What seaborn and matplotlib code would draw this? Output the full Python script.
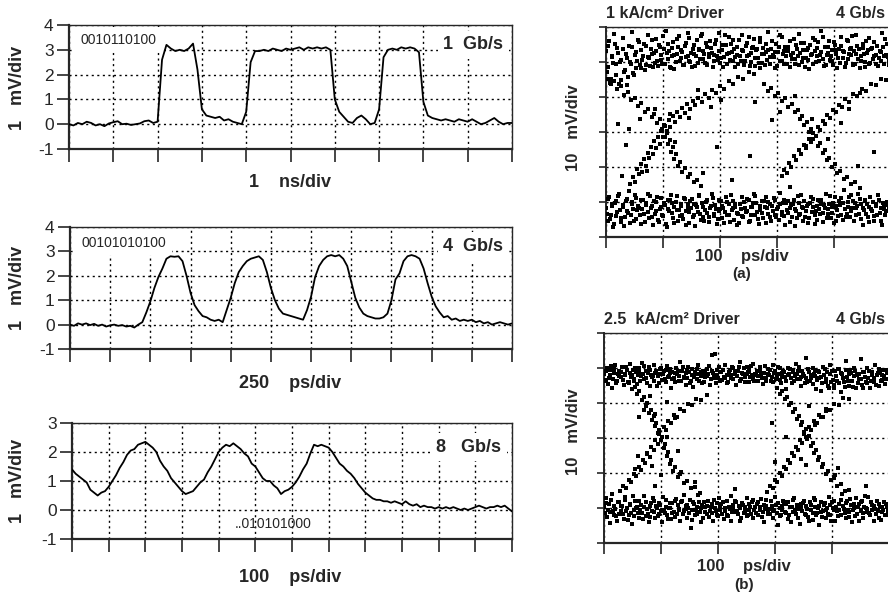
import numpy as np
import matplotlib
matplotlib.use("Agg")
import matplotlib.pyplot as plt
import seaborn as sns

# time divisions on each scope trace
divs_1g, divs_4g, divs_8g = 10, 11, 12

# scope traces (mV), one sample every 0.1 division
wave_1g = [0.0, -0.05, 0.05, 0.0, 0.1, 0.05, -0.05, 0.0, -0.08, 0.03,
           0.08, 0.12, 0.0, 0.02, -0.03, 0.0, 0.03, 0.12, 0.15, 0.05,
           0.1, 2.6, 3.2, 3.05, 2.95, 3.0, 2.95, 3.05, 3.25, 2.2,
           0.6, 0.35, 0.3, 0.25, 0.3, 0.15, 0.2, 0.1, 0.05, 0.0,
           0.5, 2.5, 2.95, 2.95, 3.0, 2.95, 3.05, 3.0, 2.95, 3.05,
           3.0, 3.05, 3.1, 3.0, 3.1, 3.05, 3.1, 3.05, 3.1, 3.0,
           1.0, 0.5, 0.3, 0.1, 0.05, 0.25, 0.35, 0.2, 0.0, 0.05,
           0.6, 2.7, 3.0, 3.05, 3.0, 3.1, 3.05, 3.1, 3.05, 2.9,
           0.9, 0.35, 0.25, 0.2, 0.15, 0.2, 0.15, 0.1, 0.2, 0.15,
           0.1, 0.2, 0.1, 0.0, 0.05, 0.15, 0.25, 0.1, 0.0, 0.05, 0.05]

wave_4g = [0.0, -0.05, 0.05, 0.0, 0.05, -0.02, 0.03, -0.05, 0.0, -0.08,
           -0.03, 0.0, -0.05, -0.02, -0.08, -0.05, -0.12, 0.0, 0.1, 0.5,
           0.95, 1.5, 1.95, 2.3, 2.7, 2.8, 2.78, 2.8, 2.6, 2.0,
           1.3, 0.8, 0.55, 0.35, 0.3, 0.2, 0.15, 0.2, 0.1, 0.6,
           1.1, 1.7, 2.15, 2.4, 2.6, 2.7, 2.75, 2.8, 2.65, 2.15,
           1.5, 1.0, 0.65, 0.45, 0.4, 0.35, 0.3, 0.25, 0.2, 0.6,
           1.15, 1.95, 2.4, 2.65, 2.8, 2.85, 2.8, 2.85, 2.7, 2.4,
           1.75, 1.1, 0.7, 0.45, 0.35, 0.3, 0.25, 0.25, 0.3, 0.45,
           1.0, 1.85, 2.1, 2.6, 2.8, 2.85, 2.8, 2.7, 2.3, 1.7,
           1.15, 0.75, 0.5, 0.3, 0.35, 0.2, 0.25, 0.15, 0.2, 0.15,
           0.2, 0.1, 0.15, 0.05, 0.1, 0.0, 0.05, 0.1, 0.05, 0.0, 0.05]

wave_8g = [1.4, 1.25, 1.15, 1.05, 0.95, 0.7, 0.6, 0.5, 0.6, 0.65,
           0.8, 1.0, 1.2, 1.45, 1.65, 1.9, 2.05, 2.1, 2.25, 2.3,
           2.35, 2.25, 2.15, 2.0, 1.7, 1.5, 1.35, 1.1, 0.95, 0.8,
           0.65, 0.55, 0.6, 0.65, 0.8, 0.95, 1.05, 1.3, 1.5, 1.75,
           2.0, 2.15, 2.25, 2.2, 2.3, 2.2, 2.1, 1.95, 1.85, 1.6,
           1.5, 1.3, 1.1, 1.0, 1.0, 0.85, 0.75, 0.55, 0.65, 0.7,
           0.8, 0.95, 1.15, 1.4, 1.6, 1.95, 2.25, 2.2, 2.25, 2.2,
           2.15, 2.0, 1.8, 1.6, 1.5, 1.35, 1.25, 1.1, 0.9, 0.75,
           0.6, 0.5, 0.4, 0.35, 0.35, 0.3, 0.3, 0.25, 0.3, 0.25,
           0.2, 0.3, 0.2, 0.15, 0.2, 0.1, 0.15, 0.1, 0.1, 0.05,
           0.1, 0.05, 0.1, 0.05, 0.1, 0.05, 0.0, 0.05, 0.0, 0.05,
           0.1, 0.15, 0.1, 0.05, 0.1, 0.1, 0.15, 0.1, 0.15, 0.05, -0.05]

# eye diagrams: sample instants (time div) of two sweeps
eye_t1 = [0.00, 0.03, 0.05, 0.09, 0.11, 0.14, 0.18, 0.19, 0.23, 0.27,
          0.29, 0.32, 0.35, 0.37, 0.41, 0.44, 0.46, 0.49, 0.53, 0.55,
          0.58, 0.61, 0.65, 0.66, 0.7, 0.73, 0.75, 0.79, 0.82, 0.84,
          0.88, 0.9, 0.93, 0.97, 0.99, 1.02, 1.05, 1.08, 1.1, 1.14,
          1.17, 1.19, 1.22, 1.26, 1.28, 1.31, 1.34, 1.36, 1.4, 1.43,
          1.46, 1.48, 1.52, 1.54, 1.57, 1.6, 1.63, 1.65, 1.69, 1.72,
          1.74, 1.77, 1.81, 1.83, 1.86, 1.89, 1.92, 1.94, 1.98, 2.01,
          2.03, 2.06, 2.1, 2.12, 2.15, 2.18, 2.21, 2.23, 2.27, 2.3,
          2.32, 2.35, 2.39, 2.41, 2.44, 2.47, 2.5, 2.52, 2.56, 2.59,
          2.61, 2.64, 2.68, 2.7, 2.73, 2.76, 2.79, 2.81, 2.85, 2.88,
          2.9, 2.93, 2.97, 2.99, 3.02, 3.05, 3.08, 3.1, 3.14, 3.17,
          3.19, 3.22, 3.26, 3.28, 3.31, 3.34, 3.37, 3.39, 3.43, 3.46,
          3.48, 3.51, 3.55, 3.57, 3.6, 3.63, 3.66, 3.68, 3.72, 3.75,
          3.77, 3.8, 3.84, 3.86, 3.89, 3.92, 3.95, 3.97, 4.01, 4.04,
          4.06, 4.09, 4.13, 4.15, 4.18, 4.21, 4.24, 4.26, 4.3, 4.33,
          4.35, 4.38, 4.42, 4.44, 4.47, 4.5, 4.53, 4.55, 4.59, 4.62,
          4.64, 4.67, 4.71, 4.73, 4.76, 4.79, 4.82, 4.84, 4.88, 4.91,
          4.93, 4.96, 4.99]
eye_t2 = [0.02, 0.04, 0.07, 0.1, 0.13, 0.16, 0.17, 0.21, 0.25, 0.26,
          0.3, 0.34, 0.36, 0.39, 0.42, 0.45, 0.48, 0.51, 0.52, 0.56,
          0.6, 0.62, 0.64, 0.68, 0.71, 0.74, 0.77, 0.8, 0.81, 0.86,
          0.87, 0.91, 0.95, 0.96, 1.0, 1.03, 1.07, 1.09, 1.12, 1.15,
          1.16, 1.2, 1.24, 1.25, 1.29, 1.32, 1.35, 1.38, 1.41, 1.44,
          1.45, 1.49, 1.51, 1.55, 1.58, 1.61, 1.64, 1.67, 1.7, 1.71,
          1.75, 1.78, 1.8, 1.84, 1.87, 1.9, 1.93, 1.96, 1.99, 2.0,
          2.04, 2.07, 2.09, 2.13, 2.16, 2.19, 2.22, 2.25, 2.26, 2.29,
          2.33, 2.36, 2.38, 2.42, 2.45, 2.48, 2.51, 2.54, 2.55, 2.58,
          2.62, 2.65, 2.67, 2.71, 2.74, 2.77, 2.8, 2.83, 2.84, 2.87,
          2.91, 2.94, 2.96, 3.0, 3.03, 3.06, 3.09, 3.12, 3.13, 3.16,
          3.2, 3.23, 3.25, 3.29, 3.32, 3.35, 3.38, 3.41, 3.42, 3.45,
          3.49, 3.52, 3.54, 3.58, 3.61, 3.64, 3.67, 3.7, 3.71, 3.74,
          3.78, 3.81, 3.83, 3.87, 3.9, 3.93, 3.96, 3.99, 4.0, 4.03,
          4.07, 4.1, 4.12, 4.16, 4.19, 4.22, 4.25, 4.28, 4.29, 4.32,
          4.36, 4.39, 4.41, 4.45, 4.48, 4.51, 4.54, 4.57, 4.58, 4.61,
          4.65, 4.68, 4.7, 4.74, 4.77, 4.8, 4.83, 4.86, 4.87, 4.9,
          4.94, 4.97]

# (a) 1 kA/cm2 driver: "1" level and "0" level bands (volt div)
a_high_1 = [5.32, 4.86, 5.61, 4.52, 5.14, 5.79, 4.93, 5.41, 4.38, 5.07,
            5.68, 4.71, 5.23, 4.35, 5.47, 4.95, 5.86, 4.64, 5.29, 5.02,
            5.58, 4.83, 5.18, 5.51, 4.91, 5.77, 5.12, 5.38, 4.87, 5.26,
            5.66, 5.04, 5.49, 5.21, 4.94, 5.37, 5.88, 5.09, 5.31, 4.82,
            5.57, 5.19, 4.99, 5.43, 5.74, 5.11, 5.28, 4.92, 5.53, 5.16,
            5.69, 5.01, 5.36, 5.24, 4.89, 5.62, 5.33, 5.08, 5.81, 5.22,
            4.96, 5.44, 5.13, 5.59, 5.27, 5.03, 5.52, 5.17, 5.84, 5.12,
            5.34, 4.85, 5.48, 5.23, 5.71, 5.06, 5.29, 5.63, 5.14, 5.42,
            4.93, 5.18, 5.76, 5.31, 5.02, 5.54, 5.21, 4.88, 5.39, 5.67,
            5.11, 5.33, 4.97, 5.58, 5.24, 5.41, 4.91, 5.28, 5.87, 5.13,
            5.37, 5.19, 4.83, 5.51, 5.29, 5.04, 5.72, 5.22, 5.43, 4.95,
            5.32, 5.61, 5.09, 5.26, 4.94, 5.48, 5.18, 5.79, 5.01, 5.34,
            5.53, 5.12, 5.39, 4.81, 5.21, 5.68, 5.31, 4.99, 5.56, 5.19,
            5.89, 5.08, 5.42, 4.92, 5.27, 5.61, 5.16, 5.03, 5.49, 5.33,
            4.84, 5.38, 5.71, 5.12, 5.29, 4.98, 5.59, 5.22, 5.41, 4.91,
            5.31, 5.78, 5.09, 5.36, 5.02, 5.52, 5.24, 4.86, 5.33, 5.69,
            4.97, 5.41, 5.18, 4.93, 5.47, 5.11, 5.29, 5.82, 4.94, 5.21,
            5.51, 5.02, 5.38]
a_high_2 = [4.72, 5.45, 4.41, 5.18, 4.96, 5.52, 4.63, 5.27, 5.01, 4.48,
            5.36, 4.78, 5.12, 4.57, 4.99, 5.43, 4.69, 5.21, 4.84, 5.63,
            4.92, 5.34, 5.06, 4.77, 5.47, 5.14, 4.89, 5.62, 5.23, 4.97,
            5.31, 4.88, 5.42, 5.07, 5.73, 4.93, 5.26, 5.51, 4.86, 5.17,
            5.39, 4.81, 5.24, 5.66, 5.02, 5.33, 4.91, 5.46, 5.13, 5.84,
            5.04, 5.27, 4.87, 5.49, 5.16, 4.96, 5.38, 5.73, 5.09, 5.31,
            5.55, 4.92, 5.22, 5.41, 4.86, 5.19, 5.64, 5.06, 5.32, 4.98,
            5.48, 5.13, 5.78, 4.94, 5.25, 5.52, 5.03, 5.37, 4.87, 5.21,
            5.62, 5.04, 5.33, 4.91, 5.46, 5.18, 5.71, 5.01, 5.26, 5.44,
            4.89, 5.36, 5.12, 5.68, 4.96, 5.23, 5.51, 5.07, 5.34, 4.93,
            5.59, 5.14, 5.28, 4.89, 5.42, 5.76, 5.03, 5.31, 4.95, 5.18,
            5.44, 4.87, 5.21, 5.65, 5.08, 5.37, 4.92, 5.26, 5.53, 5.11,
            4.86, 5.33, 5.07, 5.48, 5.22, 4.94, 5.62, 5.16, 5.39, 5.02,
            5.28, 5.71, 4.88, 5.19, 5.44, 5.06, 5.34, 4.91, 5.58, 5.23,
            5.12, 4.96, 5.47, 5.31, 4.87, 5.63, 5.08, 5.36, 5.19, 5.74,
            4.93, 5.24, 5.45, 4.83, 5.17, 5.39, 5.01, 5.61, 5.27, 4.95,
            5.36, 5.09, 5.58, 5.21, 4.89, 5.32, 5.04, 5.43, 5.17, 5.66,
            5.13, 4.91]
a_low_1 = [0.82, 0.46, 1.13, 0.64, 0.93, 0.37, 1.04, 0.72, 1.24, 0.55,
           0.86, 0.31, 1.02, 0.74, 1.31, 0.63, 0.95, 0.47, 1.11, 0.77,
           0.84, 0.36, 1.06, 0.66, 0.91, 1.22, 0.54, 0.83, 0.33, 1.03,
           0.75, 1.14, 0.44, 0.87, 0.62, 0.96, 0.38, 1.07, 0.73, 1.21,
           0.53, 0.85, 1.01, 0.46, 0.76, 0.94, 0.64, 1.12, 0.35, 0.84,
           0.72, 1.03, 0.56, 0.93, 0.32, 0.86, 1.16, 0.65, 0.97, 0.45,
           0.78, 1.06, 0.57, 0.84, 1.24, 0.66, 0.92, 0.36, 0.74, 1.02,
           0.54, 0.83, 1.13, 0.63, 0.95, 0.44, 0.76, 1.04, 0.86, 0.33,
           0.67, 0.94, 1.15, 0.56, 0.84, 0.73, 1.05, 0.47, 0.87, 1.23,
           0.64, 0.96, 0.37, 0.77, 1.03, 0.55, 0.85, 1.14, 0.66, 0.93,
           0.45, 0.74, 1.06, 0.57, 0.86, 1.25, 0.63, 0.97, 0.34, 0.76,
           1.04, 0.84, 0.56, 0.95, 0.31, 0.73, 1.16, 0.64, 0.87, 0.46,
           1.03, 0.75, 0.94, 0.54, 1.13, 0.85, 0.36, 0.74, 1.05, 0.65,
           0.93, 0.44, 0.84, 1.24, 0.66, 0.95, 0.55, 0.86, 1.15, 0.47,
           0.76, 1.04, 0.64, 0.96, 1.33, 0.56, 0.85, 1.13, 0.74, 1.02,
           0.45, 0.84, 1.23, 0.66, 0.94, 0.35, 0.76, 1.05, 0.56, 0.87,
           1.14, 0.74, 0.47, 0.95, 0.64, 1.06, 0.83, 0.35, 0.92, 0.73,
           1.01, 0.84, 0.62]
a_low_2 = [0.67, 1.08, 0.52, 0.88, 0.29, 0.97, 0.61, 1.18, 0.78, 0.42,
           0.91, 0.58, 1.09, 0.69, 0.41, 0.99, 0.81, 1.19, 0.51, 0.89,
           0.62, 1.07, 0.79, 0.43, 0.98, 0.71, 1.17, 0.58, 0.89, 0.67,
           1.01, 0.49, 0.81, 1.11, 0.59, 0.92, 0.28, 0.79, 1.06, 0.68,
           0.97, 0.41, 0.78, 1.18, 0.61, 0.88, 0.52, 1.09, 0.73, 0.95,
           0.39, 0.82, 1.08, 0.62, 0.91, 0.71, 1.21, 0.48, 0.86, 0.58,
           0.99, 0.69, 0.42, 0.89, 1.12, 0.61, 0.81, 0.51, 1.07, 0.79,
           0.88, 0.39, 0.71, 1.01, 0.63, 1.19, 0.82, 0.49, 0.93, 0.68,
           0.41, 0.81, 0.59, 0.99, 0.72, 1.09, 0.43, 0.87, 0.62, 0.96,
           1.18, 0.71, 0.52, 0.89, 0.68, 1.02, 0.39, 0.82, 0.99, 0.57,
           0.88, 1.12, 0.63, 0.81, 0.48, 0.93, 0.72, 1.05, 0.59, 0.98,
           0.69, 0.42, 0.91, 1.07, 0.79, 0.53, 0.96, 0.67, 1.21, 0.82,
           0.58, 0.89, 0.41, 0.98, 0.71, 1.09, 0.62, 0.88, 0.49, 0.79,
           1.06, 0.68, 0.92, 0.53, 0.81, 1.17, 0.69, 0.97, 0.41, 0.88,
           0.61, 0.91, 1.11, 0.48, 0.79, 0.67, 0.99, 0.57, 1.19, 0.83,
           0.98, 0.63, 0.89, 1.08, 0.51, 0.82, 1.02, 0.66, 0.93, 0.42,
           0.79, 1.01, 0.59, 0.88, 1.21, 0.69, 0.47, 0.97, 0.81, 0.62,
           0.91, 0.73]
# dots on the switching edges of (a)
a_edges = [(0.42, 1.52), (0.47, 1.71), (0.51, 1.58), (0.55, 1.93), (0.58, 1.79), (0.61, 2.08), (0.64, 1.87), (0.67, 2.22),
           (0.7, 2.04), (0.73, 2.41), (0.76, 2.26), (0.79, 2.57), (0.82, 2.38), (0.85, 2.74), (0.88, 2.55), (0.91, 2.86),
           (0.94, 2.67), (0.97, 3.04), (1.0, 2.85), (1.03, 3.18), (1.07, 3.02), (1.1, 3.34), (1.13, 3.15), (1.17, 3.47),
           (1.21, 3.29), (1.25, 3.58), (1.29, 3.42), (1.33, 3.69), (1.38, 3.55), (1.42, 3.79), (1.47, 3.66), (1.52, 3.88),
           (1.57, 3.76), (1.62, 3.97), (1.68, 3.87), (1.74, 4.08), (1.8, 3.98), (1.86, 4.19), (1.93, 4.11), (2.0, 4.32),
           (2.07, 4.24), (2.15, 4.45), (2.23, 4.38), (2.32, 4.58), (2.41, 4.52), (2.5, 4.71), (2.6, 4.66), (2.7, 4.84),
           (0.02, 4.52), (0.08, 4.38), (0.14, 4.47), (0.2, 4.22), (0.26, 4.31), (0.32, 4.06), (0.38, 4.14), (0.44, 3.91),
           (0.5, 3.98), (0.56, 3.74), (0.62, 3.83), (0.68, 3.58), (0.74, 3.66), (0.8, 3.43), (0.85, 3.51), (0.9, 3.26),
           (0.94, 3.36), (0.98, 3.08), (1.01, 3.19), (1.04, 2.87), (1.07, 2.98), (1.09, 2.66), (1.12, 2.78), (1.14, 2.44),
           (1.17, 2.57), (1.2, 2.23), (1.23, 2.36), (1.26, 2.04), (1.3, 2.14), (1.34, 1.86), (1.38, 1.96), (1.43, 1.71),
           (1.48, 1.79), (1.54, 1.58), (1.6, 1.64), (1.67, 1.46),
           (3.08, 1.74), (3.13, 1.92), (3.17, 1.83), (3.21, 2.12), (3.25, 2.01), (3.29, 2.31), (3.33, 2.19), (3.38, 2.48),
           (3.42, 2.37), (3.47, 2.64), (3.51, 2.55), (3.56, 2.81), (3.6, 2.72), (3.64, 2.97), (3.68, 2.88), (3.72, 3.14),
           (3.76, 3.05), (3.8, 3.31), (3.84, 3.22), (3.88, 3.48), (3.93, 3.39), (3.98, 3.63), (4.03, 3.56), (4.08, 3.78),
           (4.14, 3.71), (4.2, 3.93), (4.27, 3.87), (4.34, 4.08), (4.41, 4.02), (4.49, 4.23), (4.57, 4.18), (4.65, 4.37),
           (4.74, 4.33), (4.83, 4.51), (4.92, 4.48),
           (2.78, 4.36), (2.84, 4.18), (2.9, 4.27), (2.96, 4.03), (3.02, 4.12), (3.08, 3.88), (3.14, 3.96), (3.2, 3.72),
           (3.26, 3.81), (3.31, 3.56), (3.36, 3.64), (3.4, 3.38), (3.44, 3.47), (3.48, 3.19), (3.52, 3.28), (3.56, 2.99),
           (3.6, 3.08), (3.64, 2.79), (3.68, 2.88), (3.72, 2.59), (3.76, 2.68), (3.8, 2.39), (3.84, 2.48), (3.88, 2.19),
           (3.92, 2.27), (3.96, 2.01), (4.01, 2.08), (4.06, 1.84), (4.11, 1.89), (4.17, 1.67), (4.23, 1.71), (4.3, 1.52),
           (4.37, 1.56), (4.45, 1.41),
           (0.35, 2.62), (0.6, 3.38), (0.4, 3.08), (1.85, 3.71), (2.02, 3.92), (2.91, 3.33), (3.05, 3.58), (3.9, 2.81),
           (4.12, 3.27), (0.72, 1.88), (0.28, 1.73), (4.42, 2.02), (2.52, 2.31), (1.71, 1.82), (2.21, 1.62), (1.12, 3.52),
           (1.21, 2.71), (3.5, 2.61), (3.61, 3.36), (0.86, 3.66), (1.45, 3.41), (1.62, 4.21), (4.27, 3.66), (4.46, 4.11),
           (3.31, 4.02), (2.62, 3.86), (0.21, 3.22), (4.7, 2.42), (1.95, 2.58), (3.22, 1.42)]

# (b) 2.5 kA/cm2 driver
b_high_1 = [4.83, 4.62, 5.01, 4.71, 4.94, 4.43, 4.86, 5.08, 4.64, 4.91,
            4.74, 5.03, 4.52, 4.82, 4.93, 4.61, 5.11, 4.79, 4.68, 4.99,
            4.54, 4.88, 4.77, 5.14, 4.69, 4.92, 4.58, 5.02, 4.81, 4.73,
            5.09, 4.87, 4.49, 4.84, 4.97, 4.66, 4.91, 4.59, 5.06, 4.78,
            4.42, 4.89, 4.71, 5.01, 4.83, 4.63, 5.16, 4.92, 4.72, 4.51,
            4.93, 5.04, 4.62, 4.81, 4.45, 4.88, 4.69, 5.09, 4.82, 4.57,
            4.91, 4.73, 4.98, 4.84, 4.52, 5.37, 4.87, 4.71, 4.79, 5.02,
            4.63, 4.89, 4.74, 5.08, 4.81, 4.59, 4.93, 4.72, 4.99, 4.83,
            4.51, 4.92, 5.17, 4.68, 4.84, 4.61, 5.03, 4.88, 4.73, 4.81,
            5.11, 4.64, 4.91, 4.76, 5.02, 4.82, 4.53, 4.87, 4.71, 4.97,
            4.79, 4.62, 5.08, 4.86, 4.69, 4.83, 5.01, 4.58, 4.92, 4.74,
            4.41, 4.81, 4.97, 4.72, 4.89, 4.63, 5.12, 4.82, 4.68, 4.49,
            4.91, 4.78, 5.29, 4.61, 4.88, 4.72, 4.99, 4.83, 4.39, 4.92,
            4.71, 4.33, 5.02, 4.81, 4.59, 4.88, 4.42, 5.09, 4.67, 4.51,
            4.91, 4.62, 4.98, 4.31, 4.82, 4.61, 5.19, 4.73, 4.48, 4.87,
            4.63, 5.01, 4.43, 4.79, 4.68, 5.27, 4.52, 4.89, 4.61, 4.99,
            4.71, 4.42, 4.88, 4.59, 5.08, 4.81, 4.49, 4.92, 4.66, 4.78,
            4.53, 4.94, 4.69]
b_high_2 = [4.67, 4.91, 4.55, 4.79, 5.06, 4.69, 4.97, 4.58, 4.84, 4.76,
            4.89, 4.66, 4.81, 5.04, 4.59, 4.86, 4.73, 4.95, 4.62, 4.88,
            4.79, 4.99, 4.63, 4.84, 5.05, 4.71, 4.87, 4.48, 4.93, 4.76,
            4.64, 4.92, 4.78, 4.58, 5.01, 4.83, 4.69, 4.94, 4.74, 4.87,
            4.96, 4.68, 4.85, 4.59, 4.91, 4.77, 4.62, 5.03, 4.73, 4.86,
            4.71, 4.88, 4.56, 4.97, 4.74, 4.83, 4.98, 4.63, 4.89, 4.78,
            4.61, 4.86, 4.77, 5.07, 4.69, 4.91, 4.81, 4.57, 4.94, 4.72,
            4.89, 4.66, 4.95, 4.71, 4.56, 4.88, 4.79, 5.04, 4.68, 4.91,
            4.77, 5.02, 4.64, 4.86, 4.99, 4.73, 4.82, 4.59, 4.91, 5.06,
            4.68, 4.84, 4.79, 4.62, 4.93, 4.71, 4.86, 5.05, 4.64, 4.83,
            4.95, 4.73, 4.61, 4.92, 4.78, 5.03, 4.66, 4.87, 4.74, 4.89,
            4.62, 4.99, 4.84, 4.56, 4.93, 4.76, 4.68, 4.91, 5.02, 4.73,
            4.84, 4.58, 4.72, 4.96, 4.63, 4.81, 4.54, 4.93, 4.76, 4.67,
            4.89, 4.74, 4.57, 4.96, 4.68, 4.48, 4.83, 4.61, 4.92, 4.44,
            4.78, 4.98, 4.56, 4.87, 4.71, 4.46, 4.93, 4.62, 4.84, 4.95,
            4.47, 4.76, 4.91, 4.58, 4.83, 4.69, 4.42, 4.88, 4.73, 4.56,
            4.92, 4.63, 4.81, 4.71, 4.52, 4.87, 4.96, 4.64, 4.79, 4.93,
            4.68, 4.85]
b_low_1 = [1.02, 1.28, 0.73, 1.11, 0.88, 1.39, 0.81, 0.97, 0.62, 1.18,
           0.91, 1.07, 0.68, 1.31, 0.99, 0.79, 1.12, 0.54, 0.93, 1.21,
           1.04, 0.71, 1.09, 0.87, 1.33, 0.78, 0.96, 0.59, 1.13, 0.92,
           1.19, 0.72, 1.01, 0.83, 1.08, 0.61, 0.94, 1.22, 0.81, 0.99,
           0.69, 1.13, 0.89, 1.27, 0.82, 0.98, 0.63, 1.19, 0.91, 1.06,
           0.72, 1.01, 0.44, 0.93, 1.17, 0.79, 1.03, 1.38, 0.88, 1.09,
           0.71, 1.02, 0.83, 1.19, 0.92, 1.11, 0.62, 0.99, 0.81, 1.28,
           0.93, 1.12, 0.69, 1.01, 1.21, 0.78, 0.97, 0.63, 1.08, 0.89,
           1.18, 0.82, 0.99, 0.71, 1.09, 0.91, 1.29, 0.79, 1.02, 1.16,
           0.72, 0.93, 1.11, 0.81, 1.03, 1.27, 0.89, 0.61, 1.07, 0.83,
           0.98, 1.19, 0.71, 0.92, 1.09, 0.52, 0.99, 0.81, 1.21, 0.88,
           1.11, 0.69, 1.02, 0.61, 0.89, 1.28, 0.82, 1.01, 0.53, 1.12,
           0.91, 1.19, 0.79, 0.98, 0.62, 1.09, 0.87, 1.29, 0.81, 1.01,
           0.52, 1.18, 0.92, 1.09, 0.71, 1.01, 1.31, 0.79, 0.99, 1.19,
           0.62, 0.91, 1.11, 0.81, 1.41, 0.98, 0.72, 1.21, 0.89, 1.08,
           0.61, 0.99, 1.29, 0.82, 1.11, 0.91, 1.19, 0.71, 1.01, 0.89,
           1.31, 0.81, 1.09, 0.62, 0.98, 1.21, 0.72, 1.02, 0.88, 1.18,
           0.79, 1.03, 0.91]
b_low_2 = [0.86, 1.14, 0.94, 0.58, 1.23, 0.91, 1.05, 0.76, 1.16, 0.84,
           1.06, 0.83, 1.24, 0.91, 0.66, 1.08, 0.86, 1.34, 0.77, 1.01,
           0.87, 1.21, 0.93, 0.68, 1.03, 1.17, 0.82, 1.06, 0.73, 1.29,
           0.89, 1.06, 0.78, 1.15, 0.92, 1.32, 0.85, 1.04, 0.69, 1.13,
           1.01, 0.86, 1.21, 0.74, 1.08, 0.93, 1.16, 0.84, 1.37, 0.96,
           1.08, 0.86, 1.22, 0.67, 1.12, 0.94, 0.84, 1.17, 0.61, 1.01,
           1.16, 0.88, 1.07, 0.73, 1.03, 0.86, 1.24, 0.91, 1.13, 0.78,
           1.06, 0.83, 1.16, 0.91, 0.79, 1.04, 1.33, 0.88, 0.96, 1.19,
           0.91, 1.06, 0.64, 1.14, 0.86, 1.03, 0.77, 1.12, 0.93, 0.84,
           1.22, 1.04, 0.86, 1.17, 0.93, 0.74, 1.09, 0.97, 1.24, 0.91,
           0.84, 1.06, 0.93, 1.31, 0.86, 1.14, 0.76, 1.07, 0.94, 1.18,
           0.87, 1.16, 0.79, 1.04, 1.23, 0.94, 1.08, 0.71, 0.97, 1.03,
           1.13, 0.84, 1.06, 0.73, 1.17, 0.93, 0.67, 1.04, 1.22, 0.86,
           1.07, 0.88, 0.74, 1.14, 0.94, 0.83, 1.09, 0.62, 1.16, 0.93,
           1.04, 0.78, 0.93, 1.24, 1.06, 0.87, 1.15, 0.95, 0.73, 1.26,
           0.93, 1.12, 0.77, 1.04, 0.64, 1.18, 0.86, 1.03, 1.34, 0.97,
           0.87, 1.16, 0.94, 1.07, 0.82, 0.92, 1.11, 0.66, 1.04, 0.94,
           1.12, 0.81]
b_edges = [(0.44, 4.56), (0.49, 4.41), (0.54, 4.47), (0.58, 4.26), (0.62, 4.33), (0.66, 4.08), (0.7, 4.16), (0.73, 3.91),
           (0.76, 3.99), (0.79, 3.72), (0.82, 3.81), (0.85, 3.52), (0.87, 3.63), (0.9, 3.33), (0.92, 3.44), (0.95, 3.13),
           (0.97, 3.24), (1.0, 2.93), (1.02, 3.04), (1.05, 2.71), (1.07, 2.83), (1.1, 2.49), (1.12, 2.61), (1.15, 2.27),
           (1.18, 2.38), (1.21, 2.06), (1.25, 2.16), (1.29, 1.88), (1.34, 1.96), (1.4, 1.71), (1.46, 1.77), (1.53, 1.56),
           (1.6, 1.61), (1.68, 1.44),
           (0.28, 1.49), (0.34, 1.64), (0.39, 1.58), (0.44, 1.81), (0.48, 1.74), (0.53, 1.98), (0.57, 1.91), (0.61, 2.17),
           (0.65, 2.09), (0.69, 2.36), (0.72, 2.28), (0.76, 2.56), (0.8, 2.47), (0.83, 2.74), (0.87, 2.66), (0.9, 2.93),
           (0.94, 2.84), (0.97, 3.12), (1.01, 3.03), (1.05, 3.31), (1.09, 3.22), (1.13, 3.49), (1.18, 3.42), (1.23, 3.66),
           (1.28, 3.6), (1.34, 3.83), (1.4, 3.78), (1.47, 3.98), (1.54, 3.94), (1.62, 4.12), (1.7, 4.09), (1.8, 4.24),
           (2.86, 1.47), (2.92, 1.63), (2.96, 1.57), (3.0, 1.81), (3.04, 1.74), (3.08, 1.99), (3.12, 1.92), (3.16, 2.18),
           (3.19, 2.11), (3.23, 2.37), (3.26, 2.29), (3.3, 2.56), (3.33, 2.48), (3.37, 2.74), (3.4, 2.67), (3.44, 2.93),
           (3.47, 2.85), (3.51, 3.12), (3.55, 3.04), (3.59, 3.31), (3.63, 3.23), (3.68, 3.49), (3.73, 3.43), (3.78, 3.66),
           (3.84, 3.61), (3.9, 3.83), (3.97, 3.79), (4.04, 3.98), (4.12, 3.95), (4.2, 4.13), (4.3, 4.11),
           (3.04, 4.43), (3.09, 4.27), (3.13, 4.34), (3.17, 4.11), (3.21, 4.18), (3.25, 3.93), (3.28, 4.01), (3.32, 3.74),
           (3.35, 3.83), (3.39, 3.55), (3.42, 3.64), (3.45, 3.36), (3.48, 3.45), (3.51, 3.16), (3.54, 3.26), (3.57, 2.97),
           (3.6, 3.06), (3.63, 2.77), (3.66, 2.86), (3.69, 2.57), (3.72, 2.66), (3.75, 2.37), (3.78, 2.46), (3.82, 2.17),
           (3.85, 2.26), (3.89, 1.98), (3.93, 2.05), (3.98, 1.81), (4.03, 1.86), (4.09, 1.64), (4.15, 1.68), (4.22, 1.49),
           (4.3, 1.52),
           (0.6, 2.48), (0.55, 2.12), (0.75, 2.53), (1.3, 2.62), (1.35, 2.04), (3.0, 2.31), (2.95, 3.42), (3.7, 3.38),
           (4.05, 1.93), (4.1, 2.14), (0.9, 1.62), (1.6, 1.73), (3.2, 3.02), (1.1, 3.04), (0.7, 3.81), (0.8, 4.19),
           (1.1, 4.02), (1.25, 3.57), (0.9, 3.68), (0.62, 3.59), (3.6, 3.92), (3.8, 3.61), (3.9, 3.77), (3.45, 2.41),
           (3.55, 2.22), (0.85, 2.21), (1.0, 1.93), (1.94, 5.4), (2.3, 1.53), (4.6, 1.62)]

sns.set_style("ticks")
plt.rcParams['font.family'] = ['Liberation Sans', 'DejaVu Sans']
plt.rcParams['axes.unicode_minus'] = False
W, H = 888, 602
fig = plt.figure(figsize=(W / 100, H / 100), dpi=100)


def rect(left, top, right, bottom):
    return [left / W, 1 - bottom / H, (right - left) / W, (bottom - top) / H]


def wave_panel(box, vals, ndiv, ylo, yhi):
    ax = fig.add_axes(box)
    t = np.linspace(0, ndiv, len(vals))
    sns.lineplot(x=t, y=vals, ax=ax, color='black', lw=1.3, estimator=None, zorder=3)
    ax.set_xlim(0, ndiv)
    ax.set_ylim(ylo, yhi)
    ax.set_xticks(range(ndiv + 1))
    ax.set_xticklabels([])
    ax.set_yticks(range(ylo, yhi + 1))
    ax.grid(True, ls=(0, (1.5, 2.5)), color='black', lw=1.0)
    ax.tick_params(axis='x', direction='out', length=9, width=1.2)
    ax.tick_params(axis='y', direction='out', length=9, width=1.2, labelsize=12.5, pad=2)
    for s in ['left', 'bottom']:
        ax.spines[s].set_linewidth(1.6)
    for s in ['top', 'right']:
        ax.spines[s].set_linewidth(1.0)
    ax.set_xlabel('')
    ax.set_ylabel('')
    return ax


def eye_panel(box, pts):
    ax = fig.add_axes(box)
    ex = [p[0] for p in pts]
    ey = [p[1] for p in pts]
    sns.scatterplot(x=ex, y=ey, ax=ax, color='black', s=6, marker='s', linewidth=0, zorder=3)
    ax.set_xlim(0, 5)
    ax.set_ylim(0, 6)
    ax.set_xticks(range(6))
    ax.set_yticks(range(7))
    ax.set_xticklabels([])
    ax.set_yticklabels([])
    ax.grid(True, ls=(0, (1.5, 2.5)), color='black', lw=1.0)
    ax.tick_params(axis='x', direction='out', length=8, width=1.2)
    ax.tick_params(axis='y', direction='out', length=5, width=1.2)
    ax.spines['left'].set_linewidth(1.4)
    ax.spines['bottom'].set_linewidth(1.6)
    ax.spines['top'].set_linewidth(1.0)
    ax.spines['right'].set_visible(False)
    ax.set_xlabel('')
    ax.set_ylabel('')
    return ax


box_w = dict(facecolor='white', edgecolor='none', pad=4)
bold = dict(weight='bold')

# left column: pulse trains
ax1 = wave_panel(rect(69, 25, 512, 149), wave_1g, divs_1g, -1, 4)
ax1.text(0.025, 0.88, '0010110100', transform=ax1.transAxes, fontsize=10, va='center', bbox=box_w, zorder=4)
ax1.text(0.98, 0.84, '1  Gb/s', transform=ax1.transAxes, fontsize=13, ha='right', va='center', bbox=box_w, zorder=4, **bold)
fig.text(17 / W, 1 - 88 / H, '1   mV/div', rotation=90, ha='center', va='center', fontsize=13, **bold)
fig.text(290 / W, 1 - 183 / H, '1    ns/div', ha='center', va='center', fontsize=13, **bold)

ax2 = wave_panel(rect(70, 227, 512, 349), wave_4g, divs_4g, -1, 4)
ax2.text(0.027, 0.87, '00101010100', transform=ax2.transAxes, fontsize=10, va='center', bbox=box_w, zorder=4)
ax2.text(0.98, 0.84, '4  Gb/s', transform=ax2.transAxes, fontsize=13, ha='right', va='center', bbox=box_w, zorder=4, **bold)
fig.text(17 / W, 1 - 288 / H, '1   mV/div', rotation=90, ha='center', va='center', fontsize=13, **bold)
fig.text(290 / W, 1 - 383 / H, '250    ps/div', ha='center', va='center', fontsize=13, **bold)

ax3 = wave_panel(rect(72, 423, 512, 539), wave_8g, divs_8g, -1, 3)
ax3.text(0.975, 0.79, '8   Gb/s', transform=ax3.transAxes, fontsize=13, ha='right', va='center', bbox=box_w, zorder=4, **bold)
ax3.text(0.37, 0.13, '..010101000', transform=ax3.transAxes, fontsize=10, va='center', zorder=4)
fig.text(17 / W, 1 - 481 / H, '1   mV/div', rotation=90, ha='center', va='center', fontsize=13, **bold)
fig.text(290 / W, 1 - 577 / H, '100    ps/div', ha='center', va='center', fontsize=13, **bold)

# right column: eye diagrams
pts_a = (list(zip(eye_t1, a_high_1)) + list(zip(eye_t2, a_high_2)) +
         list(zip(eye_t1, a_low_1)) + list(zip(eye_t2, a_low_2)) + a_edges)
axa = eye_panel(rect(606, 27, 891, 237), pts_a)
fig.text(606 / W, 1 - 14 / H, '1 kA/cm² Driver', ha='left', va='center', fontsize=11.5, **bold)
fig.text(885 / W, 1 - 14 / H, '4 Gb/s', ha='right', va='center', fontsize=11.5, **bold)
fig.text(574 / W, 1 - 128 / H, '10   mV/div', rotation=90, ha='center', va='center', fontsize=12, **bold)
fig.text(742 / W, 1 - 257 / H, '100    ps/div', ha='center', va='center', fontsize=12, **bold)
fig.text(742 / W, 1 - 274 / H, '(a)', ha='center', va='center', fontsize=11, **bold)

pts_b = (list(zip(eye_t1, b_high_1)) + list(zip(eye_t2, b_high_2)) +
         list(zip(eye_t1, b_low_1)) + list(zip(eye_t2, b_low_2)) + b_edges)
axb = eye_panel(rect(604, 333, 889, 543), pts_b)
fig.text(604 / W, 1 - 320 / H, '2.5  kA/cm² Driver', ha='left', va='center', fontsize=11.5, **bold)
fig.text(885 / W, 1 - 320 / H, '4 Gb/s', ha='right', va='center', fontsize=11.5, **bold)
fig.text(574 / W, 1 - 432 / H, '10   mV/div', rotation=90, ha='center', va='center', fontsize=12, **bold)
fig.text(744 / W, 1 - 567 / H, '100    ps/div', ha='center', va='center', fontsize=12, **bold)
fig.text(744 / W, 1 - 585 / H, '(b)', ha='center', va='center', fontsize=11, **bold)

fig.savefig('out.png', dpi=100)
